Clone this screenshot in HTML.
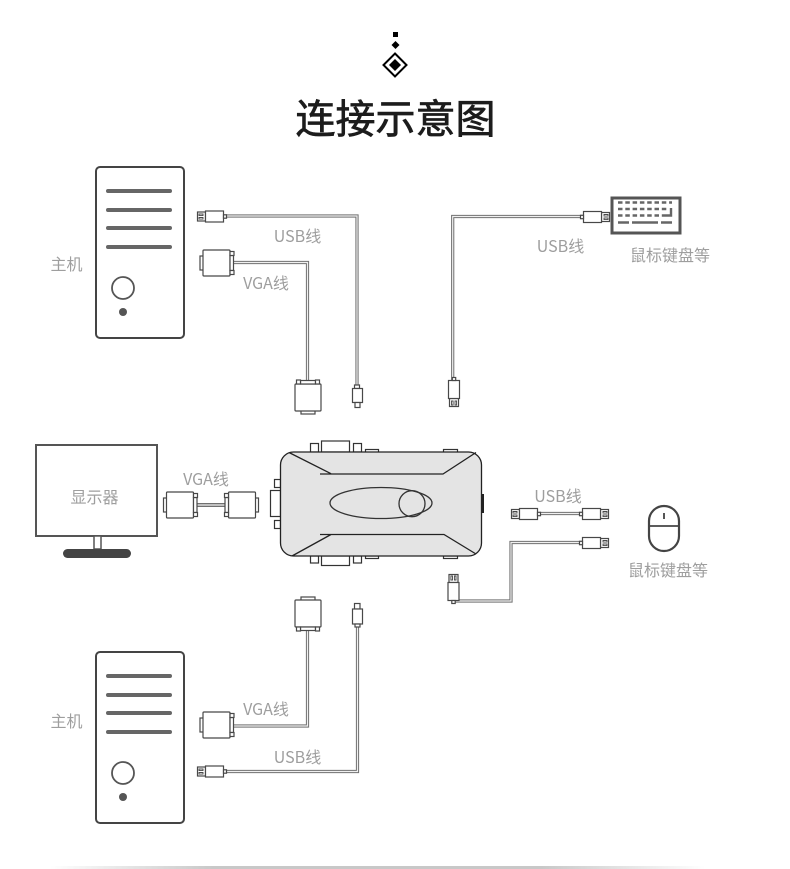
<!DOCTYPE html>
<html><head><meta charset="utf-8"><style>
html,body{margin:0;padding:0;background:#fff;width:790px;height:869px;overflow:hidden}
svg{display:block}
text{font-family:"Noto Sans CJK SC","Liberation Sans",sans-serif;font-size:16px;fill:#9e9e9e;text-anchor:middle}
.o{fill:#fff;stroke:#484848;stroke-width:1.2}
.c1{fill:none;stroke:#707070;stroke-width:3.2}
.c2{fill:none;stroke:#f0f0f0;stroke-width:1.2}
.d{fill:none;stroke:#222;stroke-width:1.3}
</style></head><body>
<svg width="790" height="869" viewBox="0 0 790 869" xmlns="http://www.w3.org/2000/svg">
<defs>
<linearGradient id="g" x1="0" x2="1" y1="0" y2="0">
<stop offset="0" stop-color="#fff"/><stop offset=".25" stop-color="#c8c8c8"/><stop offset=".75" stop-color="#c8c8c8"/><stop offset="1" stop-color="#fff"/>
</linearGradient>
<g id="usb"><!-- left-facing, origin at tip left, vertically centred -->
<rect class="o" x="0.5" y="-4.5" width="8" height="9"/>
<path class="o" d="M2 -2.5h4v1.6h-4zM2 1h4v1.6h-4z" style="stroke-width:.9"/>
<rect class="o" x="8.5" y="-5.5" width="18" height="11"/>
<rect class="o" x="26.5" y="-1.7" width="3" height="3.4"/>
</g>
<g id="vga"><!-- left-facing, origin at body centre -->
<rect class="o" x="-16.5" y="-7" width="3.5" height="14"/>
<rect class="o" x="-13.5" y="-13" width="27" height="26" rx="1"/>
<rect class="o" x="13.5" y="-7.5" width="3.5" height="15"/>
<rect class="o" x="13.5" y="-11.5" width="4" height="4"/>
<rect class="o" x="13.5" y="7.5" width="4" height="4"/>
</g>
<g id="tower">
<rect x="96" y="167" width="88" height="171" rx="4" fill="#fff" stroke="#444" stroke-width="2"/>
<g stroke="#666" stroke-width="4" stroke-linecap="round">
<path d="M108 191H170M108 210H170M108 228H170M108 247H170"/>
</g>
<circle cx="123" cy="288" r="11" fill="#fff" stroke="#555" stroke-width="1.8"/>
<circle cx="123" cy="312" r="4" fill="#555"/>
</g>
</defs>

<!-- header ornament -->
<rect x="393" y="32" width="5" height="5" fill="#000"/>
<path d="M395.500 41l4 4-4 4-4-4z" fill="#000"/>
<path d="M395 53.500l11.500 11.500-11.500 11.500-11.500-11.500z" fill="none" stroke="#000" stroke-width="2"/>
<path d="M395 59l6 6-6 6-6-6z" fill="#000"/>
<text x="395.500" y="133" style="font-size:40px;fill:#1c1c1c;stroke:#1c1c1c;stroke-width:.7">连接示意图</text>

<!-- towers -->
<use href="#tower"/>
<use href="#tower" y="485"/>
<text x="66.500" y="270">主机</text>
<text x="66.500" y="727">主机</text>

<!-- top-left cables -->
<path class="c1" d="M226 216H357V388"/><path class="c2" d="M226 216H357V388"/>
<path class="c1" d="M233 262.500H307.500V381"/><path class="c2" d="M233 262.500H307.500V381"/>
<use href="#usb" x="197" y="216.500"/>
<use href="#vga" x="216.500" y="263"/>
<g>
<rect class="o" x="354.500" y="385" width="5" height="3.500"/>
<rect class="o" x="352.500" y="388.500" width="10" height="14"/>
<rect class="o" x="355" y="402.500" width="5" height="5"/>
</g>
<g transform="translate(308 397.500) rotate(-90)"><use href="#vga"/></g>
<text x="297.500" y="242">USB线</text>
<text x="266" y="289">VGA线</text>

<!-- top-right -->
<path class="c1" d="M586 216.500H452.700V382"/><path class="c2" d="M586 216.500H452.700V382"/>
<use href="#usb" transform="translate(610 217) scale(-1 1)"/>
<g transform="translate(454 407) rotate(-90)"><use href="#usb"/></g>
<rect x="612" y="198" width="68" height="35" fill="#fff" stroke="#555" stroke-width="3"/>
<g stroke="#666" stroke-width="2.400" fill="none">
<path d="M618 202.500H672M618 209H668M618 215.500H666" stroke-dasharray="4.500 2.800"/>
<path d="M666 215.500H671V208"/>
<path d="M618 222.500H629M632 222.500H658M661 222.500H672"/>
</g>
<text x="560.500" y="252">USB线</text>
<text x="670" y="261">鼠标键盘等</text>

<!-- monitor -->
<rect x="36" y="445" width="121" height="91" fill="#fff" stroke="#555" stroke-width="2"/>
<rect x="94" y="536" width="7" height="13" fill="#fff" stroke="#555" stroke-width="1.500"/>
<rect x="63" y="549" width="68" height="9" rx="4.500" fill="#444"/>
<text x="94.500" y="503">显示器</text>
<text x="206" y="485">VGA线</text>
<path class="c1" d="M196 505H227" style="stroke-width:4"/><path class="c2" d="M196 505H227"/>
<use href="#vga" x="180" y="505"/>
<g transform="translate(242 505) scale(-1 1)"><use href="#vga"/></g>

<!-- switch -->
<g fill="#fff" stroke="#333" stroke-width="1.200">
<rect x="321.500" y="441" width="28" height="11"/>
<rect x="310.500" y="443.500" width="8" height="8.500"/>
<rect x="353.500" y="443.500" width="8" height="8.500"/>
<rect x="365.500" y="449.500" width="13" height="3"/>
<rect x="443.500" y="449.500" width="14" height="3"/>
<rect x="321.500" y="556" width="28" height="9.500"/>
<rect x="310.500" y="556" width="8" height="7"/>
<rect x="353.500" y="556" width="8" height="7"/>
<rect x="365.500" y="556" width="13" height="2.500"/>
<rect x="443.500" y="556" width="14" height="2.500"/>
<rect x="270.500" y="490.500" width="10" height="26"/>
<rect x="274.500" y="479.500" width="6" height="8"/>
<rect x="274.500" y="520.500" width="6" height="8"/>
</g>
<rect x="481" y="494" width="3" height="19" fill="#222"/>
<rect x="280.500" y="452" width="201" height="104" rx="13" fill="#e4e4e4" stroke="#222" stroke-width="1.300"/>
<path class="d" d="M289 452.500L331 473.700M320 474H443L476 452.500M320 534.500H444L476 554M320 534.500H331L292 556"/>
<ellipse cx="381" cy="503" rx="51" ry="15.500" fill="none" stroke="#333" stroke-width="1.300"/>
<ellipse cx="412" cy="503.700" rx="13" ry="13" fill="none" stroke="#333" stroke-width="1.300"/>

<!-- right USB -->
<text x="558" y="502">USB线</text>
<path class="c1" d="M540 513.500H583"/><path class="c2" d="M540 513.500H583"/>
<use href="#usb" x="511" y="514"/>
<use href="#usb" transform="translate(609 514) scale(-1 1)"/>
<path class="c1" d="M583 542.500H511V601H454"/><path class="c2" d="M583 542.500H511V601H454"/>
<use href="#usb" transform="translate(609 543) scale(-1 1)"/>
<g transform="translate(453.500 574) rotate(90)"><use href="#usb"/></g>

<!-- mouse -->
<rect x="649" y="506" width="30" height="45" rx="15" fill="#fff" stroke="#444" stroke-width="2.200"/>
<path d="M649 526H679" stroke="#444" stroke-width="1.800"/>
<path d="M664 513V519" stroke="#444" stroke-width="1.800"/>
<text x="668" y="576">鼠标键盘等</text>

<!-- bottom cables -->
<path class="c1" d="M233 726H307.500V630"/><path class="c2" d="M233 726H307.500V630"/>
<path class="c1" d="M226 771.500H357.500V625"/><path class="c2" d="M226 771.500H357.500V625"/>
<use href="#usb" x="197" y="771.500"/>
<use href="#vga" x="216.500" y="725"/>
<g transform="translate(308 613.500) rotate(90)"><use href="#vga"/></g>
<g>
<rect class="o" x="354.500" y="603.500" width="5.500" height="5.500"/>
<rect class="o" x="352.500" y="609" width="10" height="15"/>
<rect class="o" x="355" y="624" width="5" height="3"/>
</g>
<text x="266" y="715">VGA线</text>
<text x="297.500" y="763">USB线</text>

<!-- bottom rule -->
<rect x="50" y="866" width="655" height="3" fill="url(#g)"/>
</svg>
</body></html>
